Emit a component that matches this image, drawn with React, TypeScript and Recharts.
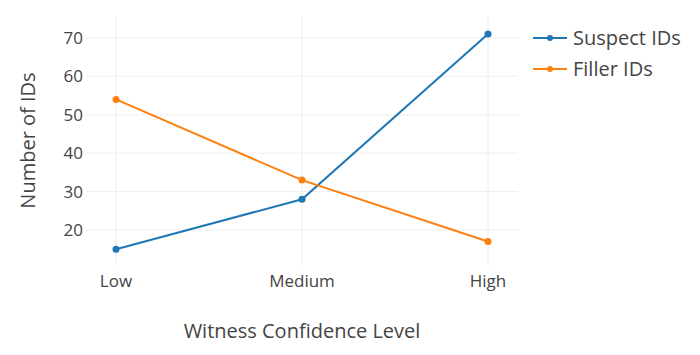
import React from "react";
import { LineChart, Line, XAxis, YAxis, CartesianGrid, Legend, Label } from "recharts";

const categories = ["Low", "Medium", "High"];
const suspectIDs = [15, 28, 71];
const fillerIDs = [54, 33, 17];
const yTicks = [20, 30, 40, 50, 60, 70];
const yDomain = [10.9, 75.7];
const xPad = 30;

const data = categories.map((c, i) => ({ level: c, suspect: suspectIDs[i], filler: fillerIDs[i] }));

const FONT = "'Open Sans', sans-serif";

const LegendContent = () => {
  const items = [
    { name: "Suspect IDs", color: "#1f77b4" },
    { name: "Filler IDs", color: "#ff7f0e" },
  ];
  return (
    <svg width={165} height={70} style={{ overflow: "visible", display: "block" }}>
      {items.map((it, i) => (
        <g key={it.name} transform={`translate(0, ${12 + i * 31})`}>
          <line x1={3} x2={37} y1={0} y2={0} stroke={it.color} strokeWidth={2} />
          <circle cx={20} cy={0} r={3} fill={it.color} />
          <text x={43} y={0} dy="0.35em" fontFamily={FONT} fontSize={20} fill="#444">
            {it.name}
          </text>
        </g>
      ))}
    </svg>
  );
};

const applyScale = (s: any, v: any): number | null => {
  if (!s) return null;
  if (typeof s === "function") return s(v);
  if (typeof s.map === "function") return s.map(v);
  if (typeof s.scale === "function") return s.scale(v);
  return null;
};

const hGen = (props: any) => {
  const s = props?.yAxis?.scale;
  const off = props?.offset || {};
  return yTicks.map((t) => {
    const r = applyScale(s, t);
    if (typeof r === "number" && !isNaN(r)) return r;
    return off.top + (off.height * (yDomain[1] - t)) / (yDomain[1] - yDomain[0]);
  });
};

const vGen = (props: any) => {
  const s = props?.xAxis?.scale;
  const off = props?.offset || {};
  return categories.map((c, i) => {
    const r = applyScale(s, c);
    if (typeof r === "number" && !isNaN(r)) return r;
    return off.left + xPad + (i * (off.width - 2 * xPad)) / (categories.length - 1);
  });
};

export default function App() {
  return (
    <div style={{ position: "absolute", left: 0, top: 0 }}>
      <LineChart width={700} height={355} data={data} margin={{ top: 16, right: 17, bottom: 20, left: 0 }}>
        <CartesianGrid
          stroke="#eeeeee"
          strokeWidth={1}
          horizontalCoordinatesGenerator={hGen}
          verticalCoordinatesGenerator={vGen}
        />
        <XAxis
          dataKey="level"
          padding={{ left: xPad, right: xPad }}
          axisLine={false}
          tickLine={false}
          height={70}
          tickMargin={4}
          tick={{ fontFamily: FONT, fontSize: 17, fill: "#444" }}
        >
          <Label value="Witness Confidence Level" position="insideBottom" offset={-3} style={{ fontFamily: FONT, fontSize: 20, fill: "#444" }} />
        </XAxis>
        <YAxis
          domain={yDomain}
          ticks={yTicks}
          allowDataOverflow
          axisLine={false}
          tickLine={false}
          tickSize={0}
          width={86}
          tickMargin={3}
          tick={{ fontFamily: FONT, fontSize: 17, fill: "#444" }}
        >
          <Label value="Number of IDs" angle={-90} position="insideLeft" offset={28} style={{ fontFamily: FONT, fontSize: 20, fill: "#444", textAnchor: "middle" }} />
        </YAxis>
        <Legend
          layout="vertical"
          align="right"
          verticalAlign="top"
          content={<LegendContent />}
          wrapperStyle={{ position: "absolute", left: 530, top: 26, width: 165 }}
        />
        <Line type="linear" dataKey="suspect" name="Suspect IDs" stroke="#1f77b4" strokeWidth={2} dot={{ r: 3.5, fill: "#1f77b4", stroke: "#1f77b4", strokeWidth: 0 }} isAnimationActive={false} />
        <Line type="linear" dataKey="filler" name="Filler IDs" stroke="#ff7f0e" strokeWidth={2} dot={{ r: 3.5, fill: "#ff7f0e", stroke: "#ff7f0e", strokeWidth: 0 }} isAnimationActive={false} />
      </LineChart>
    </div>
  );
}
